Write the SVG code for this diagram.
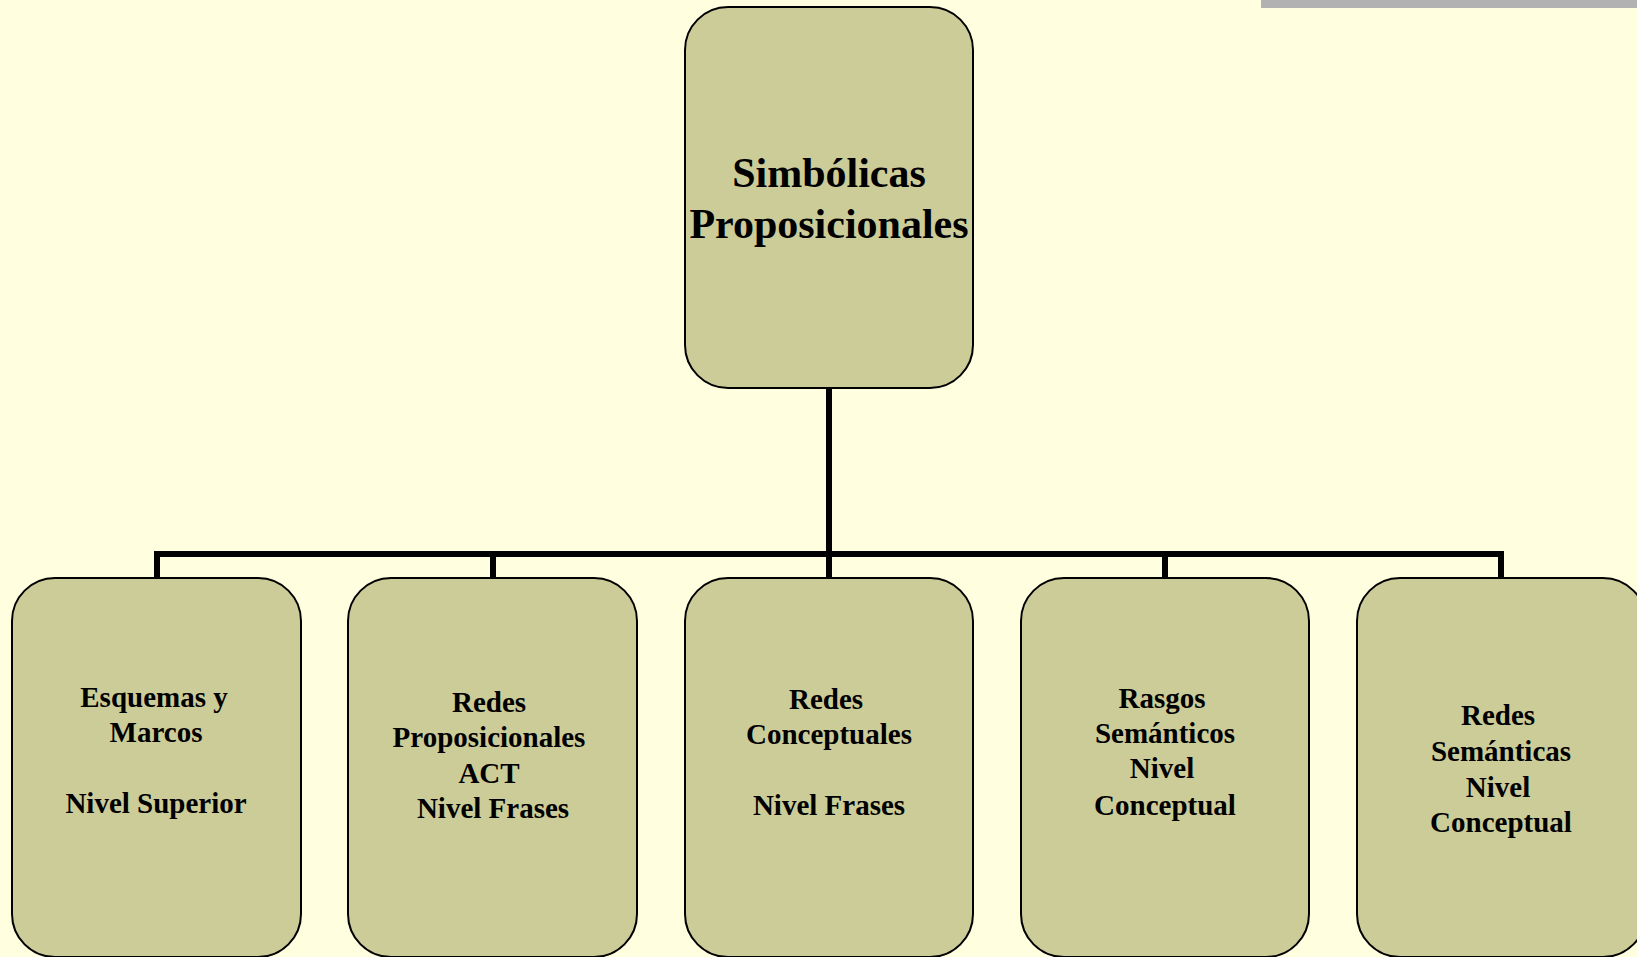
<svg xmlns="http://www.w3.org/2000/svg" width="1637" height="957" viewBox="0 0 1637 957">
<style>
.box{fill:#CCCC99;stroke:#000;stroke-width:2}
.lbl{font-family:"Liberation Serif","Times New Roman",serif;font-weight:bold;fill:#000;text-anchor:middle}
.t1{font-size:42px}
.t2{font-size:29px}
.conn{stroke:#000;stroke-width:6;fill:none;stroke-linecap:butt}
</style>
<rect x="0" y="0" width="1637" height="957" fill="#FFFFE0"/>
<rect x="1261" y="0" width="376" height="8" fill="#B2B2B2"/>
<g id="connectors">
<line class="conn" x1="829" y1="388" x2="829" y2="554"/>
<polyline class="conn" points="157,578 157,554 1501,554 1501,578"/>
<line class="conn" x1="493" y1="554" x2="493" y2="578"/>
<line class="conn" x1="829" y1="554" x2="829" y2="578"/>
<line class="conn" x1="1165" y1="554" x2="1165" y2="578"/>
</g>
<g id="node-root">
<rect class="box" x="685" y="7" width="288" height="381" rx="43" ry="43"/>
<text class="lbl t1" x="829" y="187">Simbólicas</text>
<text class="lbl t1" x="829" y="238">Proposicionales</text>
</g>
<g id="node-esquemas">
<rect class="box" x="12" y="578" width="289" height="379" rx="43" ry="43"/>
<text class="lbl t2" x="154" y="707">Esquemas y</text>
<text class="lbl t2" x="156" y="742">Marcos</text>
<text class="lbl t2" x="156" y="813">Nivel Superior</text>
</g>
<g id="node-redes-prop">
<rect class="box" x="348" y="578" width="289" height="379" rx="43" ry="43"/>
<text class="lbl t2" x="489" y="712">Redes</text>
<text class="lbl t2" x="489" y="747">Proposicionales</text>
<text class="lbl t2" x="489" y="783">ACT</text>
<text class="lbl t2" x="493" y="818">Nivel Frases</text>
</g>
<g id="node-redes-conc">
<rect class="box" x="685" y="578" width="288" height="379" rx="43" ry="43"/>
<text class="lbl t2" x="826" y="709">Redes</text>
<text class="lbl t2" x="829" y="744">Conceptuales</text>
<text class="lbl t2" x="829" y="815">Nivel Frases</text>
</g>
<g id="node-rasgos">
<rect class="box" x="1021" y="578" width="288" height="379" rx="43" ry="43"/>
<text class="lbl t2" x="1162" y="708">Rasgos</text>
<text class="lbl t2" x="1165" y="743">Semánticos</text>
<text class="lbl t2" x="1162" y="778">Nivel</text>
<text class="lbl t2" x="1165" y="815">Conceptual</text>
</g>
<g id="node-redes-sem">
<rect class="box" x="1357" y="578" width="289" height="379" rx="43" ry="43"/>
<text class="lbl t2" x="1498" y="725">Redes</text>
<text class="lbl t2" x="1501" y="761">Semánticas</text>
<text class="lbl t2" x="1498" y="797">Nivel</text>
<text class="lbl t2" x="1501" y="832">Conceptual</text>
</g>
</svg>
